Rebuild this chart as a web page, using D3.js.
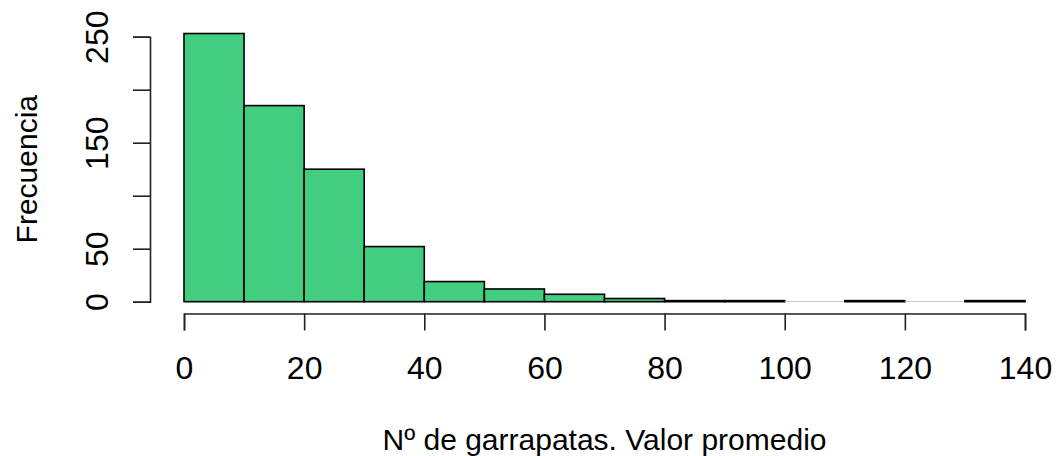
<!DOCTYPE html>
<html>
<head>
<meta charset="utf-8">
<script src="https://cdn.jsdelivr.net/npm/d3@7"></script>
<style>
  body { margin: 0; background: #fff; }
  text { font-family: "Liberation Sans", Arial, sans-serif; fill: #000; }
</style>
</head>
<body>
<script>
var width = 1061;
var height = 456;

// histogram data: bin edges and counts
var binStarts = [0, 10, 20, 30, 40, 50, 60, 70, 80, 90, 100, 110, 120, 130];
var binWidth = 10;
var counts = [253, 185, 125, 52, 19, 12, 7, 3, 1, 1, 0, 1, 0, 1];
var xTicks = [0, 20, 40, 60, 80, 100, 120, 140];
var yTicks = [0, 50, 100, 150, 200, 250];
var yLabelled = [0, 50, 150, 250];

var svg = d3.select('body')
    .append('svg')
    .attr('width', width)
    .attr('height', height);

var x = d3.scaleLinear().domain([0, 140]).range([184, 1025]),
    y = d3.scaleLinear().domain([0, 250]).range([301.7, 36.7]);

// bars (empty bins still get a faint outline at the base, like R does)
svg.selectAll('rect.bar')
    .data(binStarts)
    .enter()
    .append('rect')
    .attr('class', 'bar')
    .attr('x', function(d) { return x(d); })
    .attr('width', function(d) { return x(d + binWidth) - x(d); })
    .attr('y', function(d, i) { return y(counts[i]); })
    .attr('height', function(d, i) { return Math.max(y(0) - y(counts[i]), 0.01); })
    .attr('fill', '#43CD80')
    .attr('stroke', function(d, i) { return counts[i] ? '#000' : '#aaa'; })
    .attr('stroke-width', function(d, i) { return counts[i] ? 1.6 : 0.6; });

// x axis
var xAxis = svg.append('g')
    .attr('transform', 'translate(0,313.5)')
    .call(d3.axisBottom(x).tickValues(xTicks).tickSize(17).tickSizeOuter(17).tickPadding(0));
xAxis.selectAll('path, line').attr('stroke', '#222').attr('stroke-width', 1.6);
xAxis.selectAll('text')
    .attr('y', 65)
    .attr('dy', 0)
    .style('font-size', '32px')
    .style('font-family', '"Liberation Sans", Arial, sans-serif');

// y axis
var yAxis = svg.append('g')
    .attr('transform', 'translate(150,0)')
    .call(d3.axisLeft(y).tickValues(yTicks).tickSize(17).tickSizeOuter(17)
        .tickFormat(function(d) { return yLabelled.indexOf(d) >= 0 ? d : ''; }));
yAxis.selectAll('path, line').attr('stroke', '#222').attr('stroke-width', 1.6);
yAxis.selectAll('text')
    .attr('x', 0)
    .attr('dy', 0)
    .attr('text-anchor', 'middle')
    .attr('transform', 'translate(-42,0) rotate(-90)')
    .style('font-size', '32px')
    .style('font-family', '"Liberation Sans", Arial, sans-serif');

// axis titles
svg.append('text')
    .attr('x', x(70))
    .attr('y', 450)
    .attr('text-anchor', 'middle')
    .style('font-size', '30px')
    .text('Nº de garrapatas. Valor promedio');

svg.append('text')
    .attr('transform', 'translate(37,' + ((y(0) + y(250)) / 2) + ') rotate(-90)')
    .attr('text-anchor', 'middle')
    .style('font-size', '30px')
    .text('Frecuencia');
</script>
</body>
</html>
